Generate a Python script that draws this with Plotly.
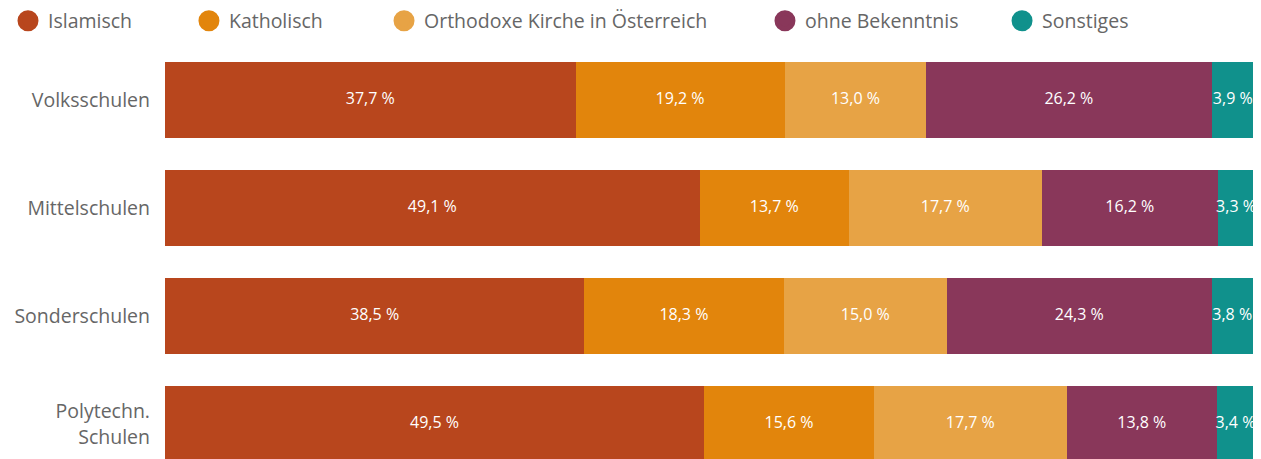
import plotly.graph_objects as go

categories = ["Volksschulen", "Mittelschulen", "Sonderschulen", "Polytechn.<br>Schulen"]
series_names = ["Islamisch", "Katholisch", "Orthodoxe Kirche in Österreich", "ohne Bekenntnis", "Sonstiges"]
islamisch = [37.7, 49.1, 38.5, 49.5]
katholisch = [19.2, 13.7, 18.3, 15.6]
orthodox = [13.0, 17.7, 15.0, 17.7]
ohne = [26.2, 16.2, 24.3, 13.8]
sonstiges = [3.9, 3.3, 3.8, 3.4]
colors = ["#b8461d", "#e2850c", "#e7a345", "#89375a", "#10918c"]

series = [islamisch, katholisch, orthodox, ohne, sonstiges]
FONT = "Open Sans"
legend_x = [0.0, 0.1435, 0.2982, 0.6003, 0.7883]

fig = go.Figure()
base = [0.0] * len(categories)
for name, vals, col in zip(series_names, series, colors):
    fig.add_trace(go.Bar(
        y=categories, x=vals, orientation="h", name=name,
        marker=dict(color=col, line=dict(width=0)),
        showlegend=False, hoverinfo="skip",
    ))
    mids = [b + v / 2 for b, v in zip(base, vals)]
    fig.add_trace(go.Scatter(
        y=categories, x=mids, mode="text",
        text=[f"{v:.1f}".replace(".", ",") + " %" for v in vals],
        textposition="middle center", cliponaxis=False,
        textfont=dict(color="white", size=16, family=FONT),
        showlegend=False, hoverinfo="skip",
    ))
    base = [b + v for b, v in zip(base, vals)]

legends = {}
for i, (name, col) in enumerate(zip(series_names, colors)):
    key = "legend" if i == 0 else f"legend{i+1}"
    fig.add_trace(go.Scatter(
        x=[None], y=[None], mode="markers", name=name,
        marker=dict(color=col, size=16, symbol="circle", line=dict(color=col, width=5)),
        showlegend=True, legend=key,
    ))
    legends[key] = dict(orientation="h", xref="container", yref="container",
                        x=legend_x[i], y=0.9715, xanchor="left", yanchor="middle",
                        font=dict(size=19.5, color="#666666", family=FONT),
                        bgcolor="rgba(0,0,0,0)")

fig.update_layout(
    barmode="stack",
    bargap=0.295,
    width=1261, height=459,
    margin=dict(l=157, r=15, t=38, b=0, autoexpand=False),
    plot_bgcolor="white", paper_bgcolor="white",
    font=dict(family=FONT, color="#666666"),
    xaxis=dict(range=[0, 100], visible=False, fixedrange=True),
    yaxis=dict(type="category", range=[3.398, -0.5], showgrid=False, zeroline=False,
               showline=False, automargin=False, ticklabelstandoff=14,
               tickfont=dict(size=19.5, color="#666666", family=FONT)),
    **legends,
)

fig.write_html("out.html")
